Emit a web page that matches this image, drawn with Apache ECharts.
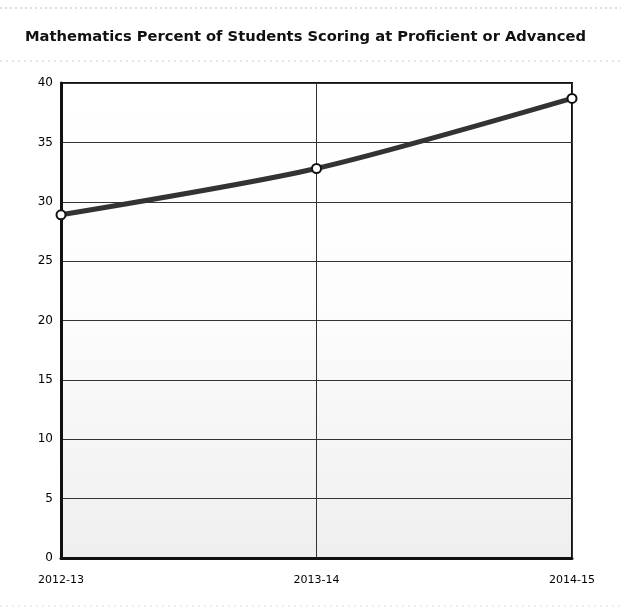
<!DOCTYPE html>
<html>
<head>
<meta charset="utf-8">
<script src="https://cdn.jsdelivr.net/npm/echarts@6/dist/echarts.min.js"></script>
<style>
  html, body { margin: 0; padding: 0; background: #fff; }
  #chart { width: 621px; height: 614px; }
</style>
</head>
<body>
<div id="chart"></div>
<script>
// School years shown on the x axis
const years = ['2012-13', '2013-14', '2014-15'];
// Percent of students scoring proficient or advanced
const percentProficient = [28.9, 32.8, 38.7];
// Y axis ticks
const yTicks = [0, 5, 10, 15, 20, 25, 30, 35, 40];

const chart = echarts.init(document.getElementById('chart'), null, { renderer: 'canvas' });

const option = {
  animation: false,
  backgroundColor: '#ffffff',
  title: {
    text: 'Mathematics Percent of Students Scoring at Proficient or Advanced',
    left: 20,
    top: 25,
    textStyle: {
      fontFamily: 'DejaVu Sans',
      fontWeight: 'bold',
      fontSize: 14.7,
      color: '#111'
    }
  },
  graphic: [
    { type: 'line', shape: { x1: 0, y1: 8, x2: 621, y2: 8 },
      style: { stroke: '#bbb', lineWidth: 1, lineDash: [2, 3] } },
    { type: 'line', shape: { x1: 0, y1: 61, x2: 621, y2: 61 },
      style: { stroke: '#ccc', lineWidth: 1, lineDash: [2, 4] } },
    { type: 'line', shape: { x1: 0, y1: 606, x2: 621, y2: 606 },
      style: { stroke: '#ddd', lineWidth: 1, lineDash: [2, 4] } }
  ],
  grid: {
    left: 61,
    right: 49,
    top: 83,
    bottom: 56,
    show: true,
    borderColor: '#111',
    borderWidth: 2,
    backgroundColor: {
      type: 'linear', x: 0, y: 0, x2: 0, y2: 1,
      colorStops: [
        { offset: 0, color: '#ffffff' },
        { offset: 0.45, color: '#fdfdfd' },
        { offset: 1, color: '#efefef' }
      ]
    }
  },
  xAxis: {
    type: 'category',
    data: years,
    boundaryGap: false,
    axisLine: { lineStyle: { color: '#111', width: 3 } },
    axisTick: { show: false },
    axisLabel: {
      margin: 17,
      fontFamily: 'DejaVu Sans',
      fontSize: 11,
      color: '#000'
    },
    splitLine: { show: true, lineStyle: { color: '#333', width: 1 } }
  },
  yAxis: {
    type: 'value',
    min: yTicks[0],
    max: yTicks[yTicks.length - 1],
    interval: 5,
    axisLine: { show: true, lineStyle: { color: '#111', width: 3 } },
    axisTick: { show: false },
    axisLabel: {
      margin: 8,
      fontFamily: 'DejaVu Sans',
      fontSize: 12,
      color: '#000'
    },
    splitLine: { show: true, lineStyle: { color: '#333', width: 1 } }
  },
  series: [{
    type: 'line',
    data: percentProficient,
    smooth: 0.25,
    symbol: 'circle',
    symbolSize: 9,
    lineStyle: { color: '#333', width: 5 },
    itemStyle: { color: '#fff', borderColor: '#111', borderWidth: 2 },
    z: 5
  }]
};

chart.setOption(option);
</script>
</body>
</html>
